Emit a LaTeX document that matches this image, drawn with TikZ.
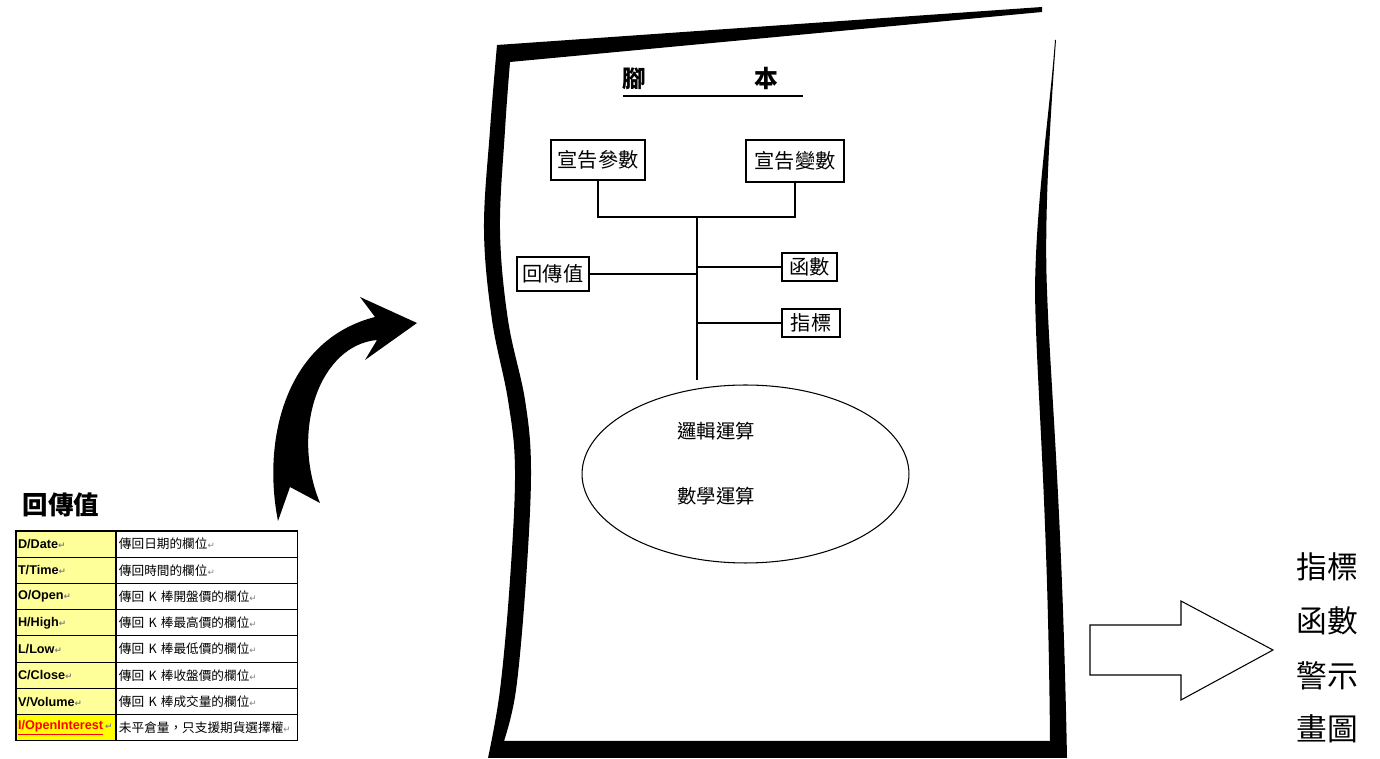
\documentclass[tikz,border=0pt]{standalone}
\usepackage{fontspec}
\usepackage{tikz}
\usetikzlibrary{positioning,shapes.geometric}
\setmainfont{Liberation Sans}
\newfontfamily\cjk{Noto Sans CJK TC}
\newfontfamily\symf{DejaVu Sans}
\definecolor{keyyellow}{HTML}{FFFF99}
\definecolor{oiyellow}{HTML}{FFFF00}
\newcommand{\retmark}{{\symf\fontsize{5}{5}\selectfont\textcolor{gray}{↵}}}
\tikzset{
  tagbox/.style={rectangle, draw, line width=0.6pt, inner sep=0pt,
                 font=\cjk\fontsize{11.5}{13}\selectfont},
  keycell/.style={rectangle, draw, line width=0.6pt, fill=keyyellow, inner sep=0pt,
                  outer sep=0pt, inner xsep=0.04cm, text width=1.92cm, minimum height=0.525cm,
                  align=left, font=\bfseries\fontsize{7.2}{8}\selectfont},
  desccell/.style={rectangle, draw, line width=0.6pt, inner sep=0pt, outer sep=0pt,
                   inner xsep=0.06cm, text width=3.52cm, minimum height=0.525cm,
                   align=left, font=\cjk\fontsize{7.2}{8}\selectfont},
  calctext/.style={inner sep=0pt, font=\cjk\fontsize{11}{12}\selectfont},
  sidetext/.style={inner sep=0pt, font=\cjk\fontsize{17.5}{18}\selectfont},
  wire/.style={line width=0.6pt},
}

\begin{document}
\begin{tikzpicture}[x=0.02cm, y=-0.02cm]
  \useasboundingbox (0,0) rectangle (1380,759);

  % the sheet
  \fill (1042,7) -- plot[smooth, tension=0.6] coordinates {(497,45) (490,130) (484,230)
      (492,320) (508,400) (515,470) (510,580) (500,690) (488,758)}
    -- (1060,758) -- (1058,741)
    -- plot[smooth, tension=0.6] coordinates {(504,741) (516,690) (526,580) (531,470)
      (525,400) (508,320) (500,230) (505,130) (510,62)}
    -- (1042,12) -- cycle;
  \fill (1056,40)
    .. controls (1050,120) and (1044,220) .. (1047,290)
    .. controls (1050,380) and (1062,500) .. (1067,758)
    -- (1050,758) -- (1050,741)
    .. controls (1048,500) and (1036,380) .. (1035,290)
    .. controls (1036,200) and (1050,110) .. (1055,40) -- cycle;

  % title
  \node[inner sep=0pt, anchor=west, font=\cjk\bfseries\fontsize{13.5}{15}\selectfont]
    (title) at (622,78) {腳\hspace{2.16cm}本};
  \draw[wire] (623,96) -- (803,96);

  % tree
  \node[tagbox, minimum width=1.88cm, minimum height=0.8cm] (param) at (598,160) {宣告參數};
  \node[tagbox, minimum width=1.96cm, minimum height=0.84cm] (var) at (795,161) {宣告變數};
  \node[tagbox, minimum width=1.44cm, minimum height=0.68cm] (ret) at (553,274) {回傳值};
  \node[tagbox, minimum width=1.1cm, minimum height=0.56cm] (func) at (809.5,267) {函數};
  \node[tagbox, minimum width=1.16cm, minimum height=0.56cm] (ind) at (811,323) {指標};
  \coordinate (hub) at (697,217);
  \coordinate (stem) at (697,380);
  \draw[wire] (param.south) |- (hub) -| (var.south);
  \draw[wire] (hub) -- (stem);
  \draw[wire] (ret.east) -- (ret.east -| hub);
  \draw[wire] (func.west) -- (func.west -| hub);
  \draw[wire] (ind.west) -- (ind.west -| hub);

  \node[draw, ellipse, line width=0.6pt, inner sep=0pt, minimum width=6.54cm,
        minimum height=3.56cm] (calc) at (745.5,474) {};
  \node[calctext] (logic) at (716,431) {邏輯運算};
  \node[calctext] (math) at (716,496) {數學運算};

  % curved arrow
  \fill (278,521) .. controls (262,440) and (285,340) .. (375,317)
    -- (360,297) -- (417,323) -- (365,360) -- (377,340)
    .. controls (320,345) and (290,430) .. (320,503)
    -- (290,487) -- cycle;

  % return values
  \node[inner sep=0pt, font=\cjk\bfseries\fontsize{14.5}{16}\selectfont] (rethead) at (61,505) {回傳值};
  \node[keycell] (k1) at (66,544.1) {D/Date\retmark};
  \node[keycell, below=0pt of k1] (k2) {T/Time\retmark};
  \node[keycell, below=0pt of k2] (k3) {O/Open\retmark};
  \node[keycell, below=0pt of k3] (k4) {H/High\retmark};
  \node[keycell, below=0pt of k4] (k5) {L/Low\retmark};
  \node[keycell, below=0pt of k5] (k6) {C/Close\retmark};
  \node[keycell, below=0pt of k6] (k7) {V/Volume\retmark};
  \node[keycell, below=0pt of k7, fill=oiyellow] (k8) {\textcolor{red}{\underline{I/OpenInterest}}\,\retmark};
  \node[desccell, right=0pt of k1] (d1) {傳回日期的欄位\retmark};
  \node[desccell, right=0pt of k2] (d2) {傳回時間的欄位\retmark};
  \node[desccell, right=0pt of k3] (d3) {傳回 K 棒開盤價的欄位\retmark};
  \node[desccell, right=0pt of k4] (d4) {傳回 K 棒最高價的欄位\retmark};
  \node[desccell, right=0pt of k5] (d5) {傳回 K 棒最低價的欄位\retmark};
  \node[desccell, right=0pt of k6] (d6) {傳回 K 棒收盤價的欄位\retmark};
  \node[desccell, right=0pt of k7] (d7) {傳回 K 棒成交量的欄位\retmark};
  \node[desccell, right=0pt of k8] (d8) {未平倉量，只支援期貨選擇權\retmark};

  % output
  \draw[wire] (1090,625) -- (1181,625) -- (1181,601) -- (1273,650)
    -- (1181,700) -- (1181,675) -- (1090,675) -- cycle;
  \node[sidetext] (out1) at (1327,567) {指標};
  \node[sidetext] (out2) at (1327,621) {函數};
  \node[sidetext] (out3) at (1327,676) {警示};
  \node[sidetext] (out4) at (1327,729) {畫圖};
\end{tikzpicture}
\end{document}
